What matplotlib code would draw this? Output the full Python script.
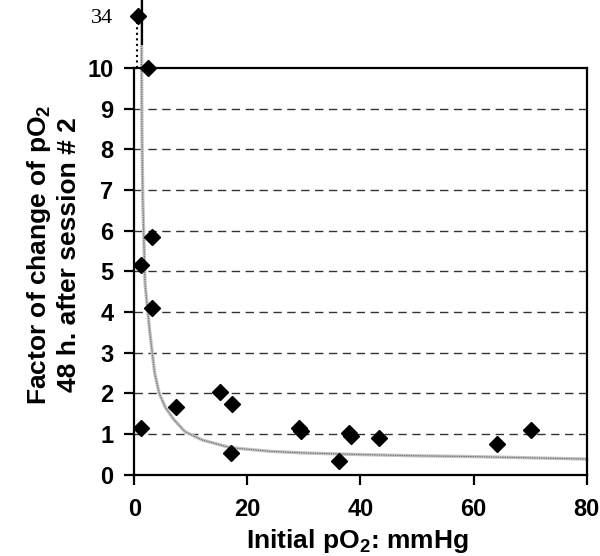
import matplotlib
matplotlib.use("Agg")
import matplotlib.pyplot as plt

plt.rcParams['font.family'] = ['Liberation Sans', 'DejaVu Sans']
plt.rcParams['mathtext.fontset'] = 'custom'
plt.rcParams['mathtext.bf'] = 'Liberation Sans:bold'
plt.rcParams['mathtext.rm'] = 'Liberation Sans:bold'

# measured points (pO2 initial, factor of change)
x_pts = [0.65, 2.35, 3.1, 1.2, 3.2, 1.2, 7.4, 15.2, 17.2, 17.1,
         29.2, 29.4, 36.2, 38.0, 38.3, 43.3, 64.1, 70.1]
y_pts = [34, 10, 5.85, 5.15, 4.1, 1.15, 1.65, 2.02, 1.74, 0.52,
         1.15, 1.07, 0.32, 1.03, 0.95, 0.9, 0.74, 1.1]

# fitted trend curve
curve_x = [1.3, 1.3, 1.35, 1.5, 1.9, 2.75, 3.6, 4.4, 5.5, 7, 9, 12,
           17, 24, 30, 40, 50, 60, 70, 80]
curve_y = [11.67, 10, 8.5, 6.8, 4.7, 3.5, 2.5, 2.0, 1.65, 1.35, 1.05, 0.85,
           0.66, 0.57, 0.53, 0.49, 0.46, 0.44, 0.41, 0.38]

y_ticks = list(range(11))
x_ticks = [0, 20, 40, 60, 80]

BREAK_POS = 11.28   # where the out-of-range value (34) is placed
TOP = 11.67

y_disp = [v if v <= 10 else BREAK_POS for v in y_pts]

fig = plt.figure(figsize=(6, 5.56), dpi=100)
ax = fig.add_axes([0.2238, 1 - 474.5 / 556, 0.754, 474.5 / 556])

ax.set_xlim(0, 80)
ax.set_ylim(0, TOP)

# grid lines
for g in y_ticks[1:-1]:
    ax.axhline(g, color='#333333', lw=1.0, ls=(0, (6, 4)), zorder=1)

# trend curve
ax.plot(curve_x, curve_y, color='#c4c4c4', lw=2.4, zorder=2, clip_on=False)
ax.plot(curve_x, curve_y, color='#555555', lw=0.8, ls=(0, (0.7, 0.9)),
        zorder=2, clip_on=False)
top_x = [cx for cx, cy in zip(curve_x, curve_y) if cy > 10]
top_y = [cy for cy in curve_y if cy > 10]
ax.plot(top_x + [top_x[-1]], top_y + [10.6], color='black', lw=1.5,
        zorder=3, clip_on=False)

# broken-axis connector for the off-scale value
ax.vlines(x_pts[0] - 0.2, 10, BREAK_POS, colors='black', linestyles=':',
          lw=1.5, zorder=3)

ax.plot(x_pts, y_disp, 'D', color='black', ms=8, zorder=4, clip_on=False)

for s in ['left', 'right', 'top', 'bottom']:
    ax.spines[s].set_linewidth(1.6)
ax.spines['left'].set_bounds(0, 10)
ax.spines['right'].set_bounds(0, 10)
ax.spines['top'].set_position(('data', 10))

ax.set_xticks(x_ticks)
ax.set_yticks(y_ticks + [BREAK_POS])
ax.set_yticklabels([str(t) for t in y_ticks] + ['34'])
ax.tick_params(axis='both', direction='out', length=7, width=1.6,
               labelsize=17, pad=8)
ax.tick_params(axis='x', pad=10)
for lab in ax.get_xticklabels() + ax.get_yticklabels():
    lab.set_fontweight('bold')
lab34 = ax.get_yticklabels()[-1]
lab34.set_fontweight('normal')
lab34.set_fontfamily('Liberation Serif')
lab34.set_fontsize(16)
ax.yaxis.get_major_ticks()[-1].tick1line.set_visible(False)

fig.text(357 / 600, 1 - 541 / 556, r'Initial pO$\mathbf{_2}$: mmHg',
         fontsize=19, fontweight='bold', ha='center', va='center')
fig.text(53 / 600, 1 - 255 / 556,
         'Factor of change of pO$\\mathbf{_2}$\n48 h. after session # 2',
         fontsize=19, fontweight='bold', ha='center', va='center',
         rotation=90, linespacing=1.25, multialignment='center')

fig.savefig('out.png', dpi=100)
